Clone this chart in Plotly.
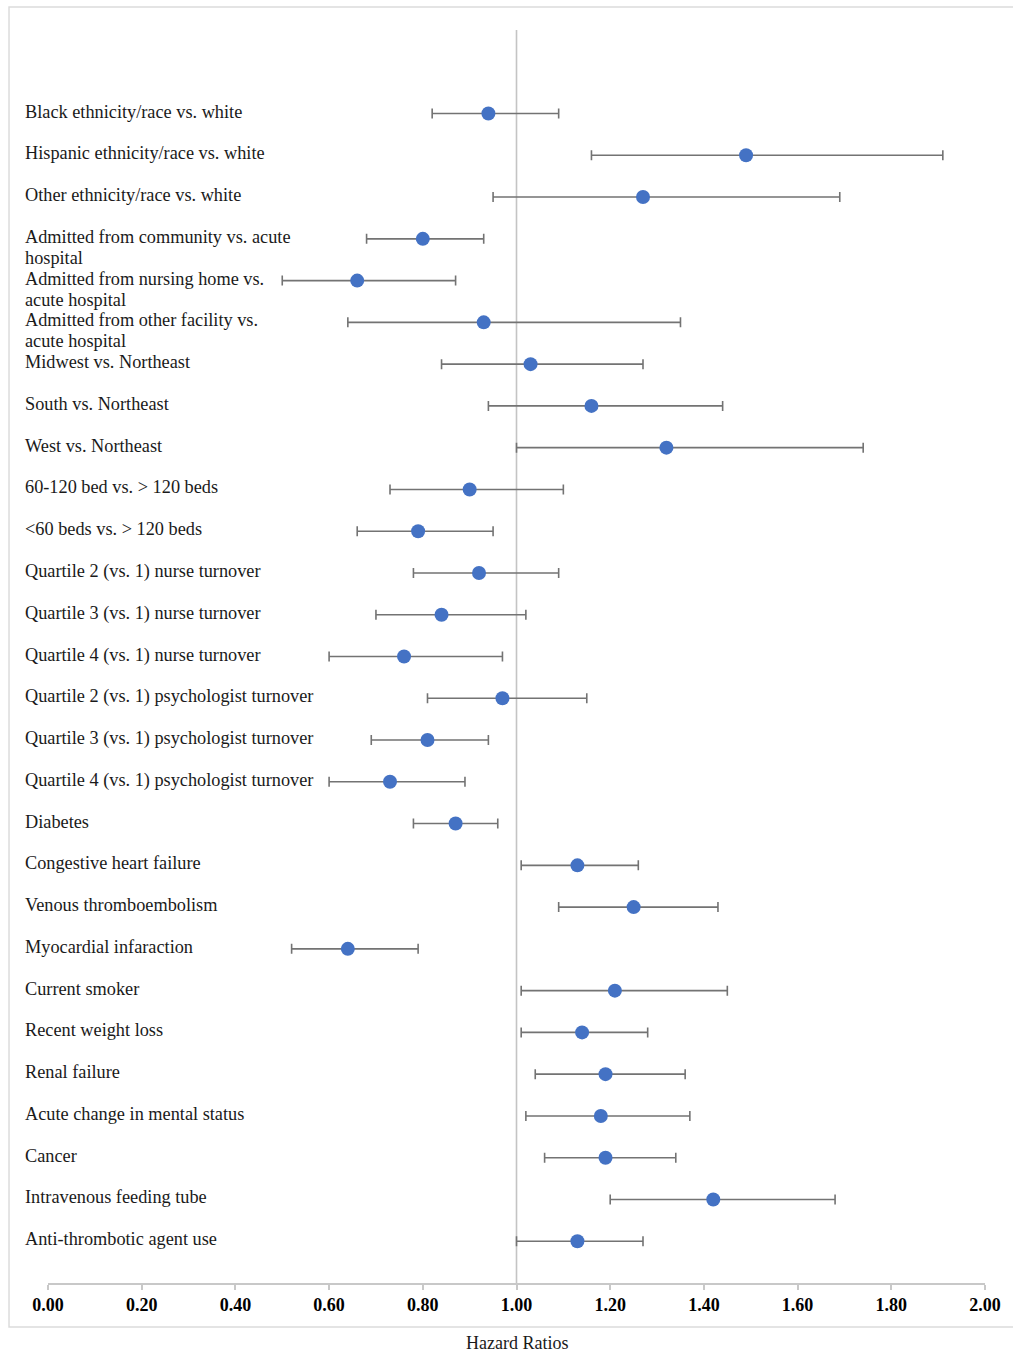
import plotly.graph_objects as go

labels = [
    "Black ethnicity/race vs. white",
    "Hispanic ethnicity/race vs. white",
    "Other ethnicity/race vs. white",
    "Admitted from community vs. acute<br>hospital",
    "Admitted from nursing home vs.<br>acute hospital",
    "Admitted from other facility vs.<br>acute hospital",
    "Midwest vs. Northeast",
    "South vs. Northeast",
    "West vs. Northeast",
    "60-120 bed vs. > 120 beds",
    "<60 beds vs. > 120 beds",
    "Quartile 2 (vs. 1) nurse turnover",
    "Quartile 3 (vs. 1) nurse turnover",
    "Quartile 4 (vs. 1) nurse turnover",
    "Quartile 2 (vs. 1) psychologist turnover",
    "Quartile 3 (vs. 1) psychologist turnover",
    "Quartile 4 (vs. 1) psychologist turnover",
    "Diabetes",
    "Congestive heart failure",
    "Venous thromboembolism",
    "Myocardial infaraction",
    "Current smoker",
    "Recent weight loss",
    "Renal failure",
    "Acute change in mental status",
    "Cancer",
    "Intravenous feeding tube",
    "Anti-thrombotic agent use",
]

hazard_ratio = [0.94, 1.49, 1.27, 0.80, 0.66, 0.93, 1.03, 1.16, 1.32, 0.90,
                0.79, 0.92, 0.84, 0.76, 0.97, 0.81, 0.73, 0.87, 1.13, 1.25,
                0.64, 1.21, 1.14, 1.19, 1.18, 1.19, 1.42, 1.13]
ci_lower = [0.82, 1.16, 0.95, 0.68, 0.50, 0.64, 0.84, 0.94, 1.00, 0.73,
            0.66, 0.78, 0.70, 0.60, 0.81, 0.69, 0.60, 0.78, 1.01, 1.09,
            0.52, 1.01, 1.01, 1.04, 1.02, 1.06, 1.20, 1.00]
ci_upper = [1.09, 1.91, 1.69, 0.93, 0.87, 1.35, 1.27, 1.44, 1.74, 1.10,
            0.95, 1.09, 1.02, 0.97, 1.15, 0.94, 0.89, 0.96, 1.26, 1.43,
            0.79, 1.45, 1.28, 1.36, 1.37, 1.34, 1.68, 1.27]

tick_vals = [0.0, 0.2, 0.4, 0.6, 0.8, 1.0, 1.2, 1.4, 1.6, 1.8, 2.0]
tick_text = ["0.00", "0.20", "0.40", "0.60", "0.80", "1.00", "1.20", "1.40", "1.60", "1.80", "2.00"]

rows = list(range(1, len(labels) + 1))
err_plus = [u - h for u, h in zip(ci_upper, hazard_ratio)]
err_minus = [h - l for h, l in zip(hazard_ratio, ci_lower)]

SERIF = "Liberation Serif, Times New Roman, serif"

fig = go.Figure()
fig.add_trace(go.Scatter(
    x=hazard_ratio, y=rows, mode="markers",
    marker=dict(color="#4472C4", size=14),
    error_x=dict(type="data", array=err_plus, arrayminus=err_minus,
                 color="#737373", thickness=1.6, width=5),
    showlegend=False, hoverinfo="skip",
))

annotations = []
for r, lab in zip(rows, labels):
    for k, line in enumerate(lab.split("<br>")):
        annotations.append(dict(
            x=-0.0267, xref="paper", y=r, yref="y", text=line,
            xanchor="left", yanchor="top", yshift=14 - 21 * k, align="left",
            showarrow=False, font=dict(family=SERIF, size=18.3, color="#1a1a1a"),
        ))
annotations.append(dict(
    x=0.5, xref="paper", y=-0.0479, yref="paper", text="Hazard Ratios",
    xanchor="center", yanchor="middle", showarrow=False,
    font=dict(family=SERIF, size=18, color="#1a1a1a"),
))

shapes = [
    dict(type="line", xref="x", yref="paper", x0=1, x1=1, y0=0, y1=1,
         line=dict(color="#c4c4c4", width=1.6), layer="below"),
    dict(type="rect", xref="paper", yref="paper",
         x0=-0.0416, x1=1.031, y0=-0.0351, y1=1.0184,
         line=dict(color="#dcdcdc", width=1.5), layer="below"),
]

fig.update_layout(
    width=1013, height=1355,
    margin=dict(l=48, r=28, t=30, b=72),
    paper_bgcolor="white", plot_bgcolor="white",
    annotations=annotations, shapes=shapes,
    xaxis=dict(range=[0, 2.0], tickvals=tick_vals, ticktext=tick_text,
               showgrid=False, zeroline=False, showline=True,
               linecolor="#c8c8c8", linewidth=1.5,
               ticks="outside", ticklen=5, tickcolor="#c8c8c8", tickwidth=1.5,
               tickfont=dict(family=SERIF, size=18, color="#000000", weight="bold")),
    yaxis=dict(range=[29, -1], showgrid=False, zeroline=False, showline=False,
               showticklabels=False, ticks=""),
)

fig.write_html(
    "out.html",
    config={"displayModeBar": False},
    post_script="document.body.style.margin='0';document.body.style.overflow='hidden';",
)
